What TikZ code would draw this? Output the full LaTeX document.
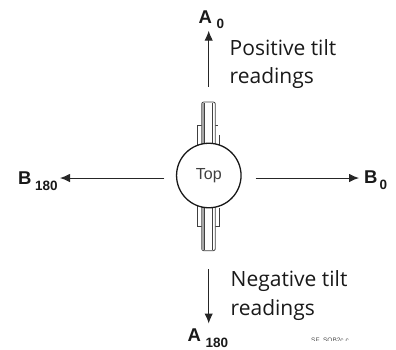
\documentclass[tikz,border=0pt]{standalone}
\usepackage{fontspec}
\setmainfont{Open Sans}
\newfontfamily\lab{Liberation Sans}
\usetikzlibrary{arrows.meta}
\tikzset{
  x=1pt,y=-1pt,
  rail/.style={draw=black!75,line width=0.8pt},
  conn/.style={draw=black!85,line width=1pt,-{Latex[length=10pt,width=8.5pt]}},
  biglab/.style={font=\lab\bfseries\fontsize{18.5}{19}\selectfont,inner sep=0pt,anchor=base west,text=black!90},
  sublab/.style={font=\lab\bfseries\fontsize{13.5}{14}\selectfont,inner sep=0pt,anchor=base west,text=black!90},
  txt/.style={font=\fontsize{21}{28}\selectfont,inner sep=0pt,anchor=base west,text=black!90},
}
\begin{document}
\begin{tikzpicture}
\useasboundingbox (0,0) rectangle (396,349);
% wide guide plate: open on the upper right
\draw[rail] (204,125.7) -- (197.7,125.7) -- (197.7,226.7) -- (219.7,226.7) -- (219.7,208);
\draw[rail] (215,125.7) -- (217.5,125.7);
\draw[rail] (219.5,135) -- (219.5,146);
% central rail
\draw[rail,rounded corners=2pt,fill=white] (201.7,102) rectangle (215.3,250.7);
\fill[black!35] (202.2,103) rectangle (204.3,250);
\draw[rail] (204.3,103) -- (204.3,250);
\draw[rail] (212.7,103) -- (212.7,250);
\node[circle,draw=black!90,line width=1.3pt,fill=white,minimum size=64.5pt,inner sep=0pt,
  text=black!75,font=\lab\fontsize{16}{17}\selectfont] (top) at (208.8,175.5) {Top};
% arrow ends
\coordinate (a0s) at (208.7,86.7);
\coordinate (a0e) at (208.7,30.7);
\coordinate (a1s) at (208.7,269.3);
\coordinate (a1e) at (208.7,323.5);
\coordinate (b1s) at (164.3,178);
\coordinate (b1e) at (60,178);
\coordinate (b0s) at (255.5,178);
\coordinate (b0e) at (359,178);
\draw[conn] (a0s) -- (a0e);
\draw[conn] (a1s) -- (a1e);
\draw[conn] (b1s) -- (b1e);
\draw[conn] (b0s) -- (b0e);
% labels
\node[biglab] (la0) at (198.5,23) {A};
\node[sublab] (sa0) at (216.5,28.2) {0};
\node[biglab] (la1) at (187.5,341.7) {A};
\node[sublab] (sa1) at (205.5,347.3) {180};
\node[biglab] (lb1) at (18,184) {B};
\node[sublab] (sb1) at (35,190) {180};
\node[biglab] (lb0) at (364,183.5) {B};
\node[sublab] (sb0) at (379.5,189) {0};
\node[txt] (pos1) at (229.5,55) {Positive tilt};
\node[txt] (pos2) at (229.5,83) {readings};
\node[txt] (neg1) at (230.5,286.7) {Negative tilt};
\node[txt] (neg2) at (230.5,315) {readings};
\begin{scope}
\clip (300,325) rectangle (396,340.5);
\node[font=\lab\fontsize{6.5}{7}\selectfont,text=black!70,inner sep=0pt,anchor=base west] (ref) at (311,342) {SF\_SOB2c.c};
\end{scope}
\end{tikzpicture}
\end{document}
